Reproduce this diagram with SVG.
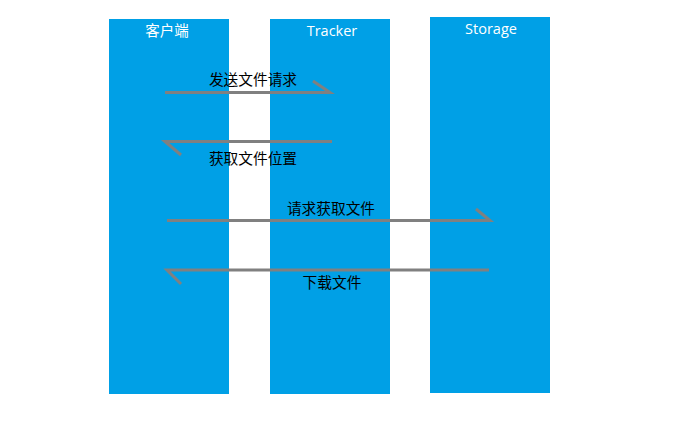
<svg xmlns="http://www.w3.org/2000/svg" width="687" height="424" viewBox="0 0 687 424">
<style>
.lane{fill:#00a0e6}
.hd{font-family:"Open Sans","Noto Sans CJK SC",sans-serif;font-size:14.5px;fill:#ffffff;text-anchor:middle}
.lb{font-family:"Noto Sans CJK SC",sans-serif;font-size:14.7px;fill:#000000;text-anchor:middle}
.ar{stroke:#808080;stroke-width:3;fill:none}
</style>
<rect width="687" height="424" fill="#ffffff"/>
<g id="client"><rect class="lane" x="109" y="19" width="120" height="375"/><text class="hd" x="167" y="36">客户端</text></g>
<g id="tracker"><rect class="lane" x="270" y="19" width="120" height="375"/><text class="hd" x="332" y="36">Tracker</text></g>
<g id="storage"><rect class="lane" x="430" y="17" width="120" height="376"/><text class="hd" x="491" y="34">Storage</text></g>
<g id="connectors">
<path class="ar" d="M165 92.5H330L313 81"/>
<path class="ar" d="M332 141.5H165L181 155"/>
<path class="ar" d="M167 220.5H490L476 209"/>
<path class="ar" d="M489 270H167L181 284"/>
<text class="lb" x="253" y="85">发送文件请求</text>
<text class="lb" x="253" y="164">获取文件位置</text>
<text class="lb" x="331" y="214">请求获取文件</text>
<text class="lb" x="332" y="288">下载文件</text>
</g>
</svg>
